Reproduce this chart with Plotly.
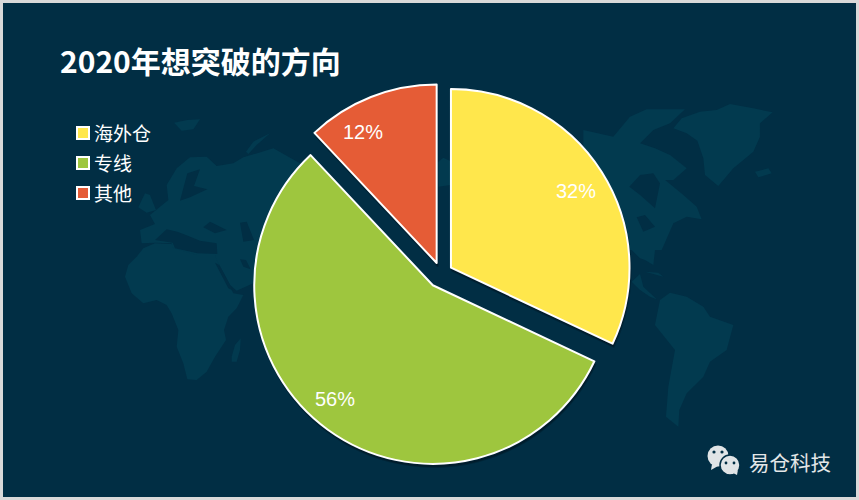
import math
import plotly.graph_objects as go

W, H = 859, 500

categories = ['海外仓', '专线', '其他']
values = [32, 56, 12]
colors = ['#FFE74C', '#9EC63E', '#E55C36']
pulls = [0.066, 0.078, 0.066]
# the labels are not quite on the slice bisector in the original
label_nudge = [(0, 2), (-11, -6), (-19, 6)]

BG = '#012E44'
LAND = '#023A4F'
SANS = 'Noto Sans CJK SC'

# faint world map behind the pie. outlines traced off 3x crops of the picture,
# so each group has its crop origin
old_world_land = [
    # africa
    [(75, 530), (85, 495), (110, 470), (130, 445), (165, 430), (215, 432), (240, 445), (290, 462), (345, 462),
     (365, 510), (385, 550), (400, 580), (430, 585), (410, 625), (385, 650), (372, 690), (378, 720), (345, 770),
     (320, 815), (290, 840), (262, 838), (250, 790), (230, 740), (235, 690), (215, 640), (200, 615), (170, 600),
     (130, 610), (95, 580)],
    # madagascar
    [(395, 770), (405, 735), (422, 715), (420, 750), (410, 785), (395, 785)],
    # europe and asia, runs on behind the green slice
    [(125, 430), (120, 390), (165, 372), (150, 345), (205, 300), (200, 255), (230, 205), (270, 172), (320, 170),
     (350, 198), (400, 190), (430, 172), (520, 145), (600, 190), (700, 250), (640, 430), (600, 500), (470, 545),
     (410, 572), (390, 555), (350, 480), (345, 465), (290, 465), (220, 445), (215, 430), (165, 428)],
    # britain, ireland
    [(115, 322), (135, 280), (150, 285), (168, 330), (140, 338)],
    # svalbard, novaya zemlya
    [(222, 68), (262, 60), (300, 58), (280, 88), (245, 92)],
    [(438, 155), (460, 125), (510, 100), (470, 135), (445, 162)],
]
old_world_sea = [
    # mediterranean
    [(165, 420), (200, 388), (232, 395), (258, 405), (300, 422), (350, 430), (352, 462), (292, 460), (225, 445),
     (218, 428)],
    # black sea
    [(310, 382), (330, 365), (380, 390), (345, 400)],
    # caspian
    [(420, 368), (440, 365), (462, 420), (430, 425)],
    # baltic
    [(240, 302), (262, 220), (300, 208), (282, 258), (322, 268), (270, 292)],
    # red sea and gulf
    [(345, 488), (358, 495), (400, 572), (385, 565)],
    [(420, 478), (438, 480), (452, 508), (430, 500)],
]
north_atlantic_land = [
    # greenland
    [(250, 145), (275, 115), (330, 95), (380, 90), (420, 72), (490, 85), (548, 97), (510, 130), (510, 170),
     (490, 215), (430, 265), (385, 318), (345, 285), (340, 235), (322, 182), (290, 160)],
    # iceland
    [(495, 275), (535, 265), (545, 280), (505, 292)],
    # arctic canada and the mainland, runs on behind the yellow slice
    [(-20, 150), (70, 170), (120, 110), (170, 88), (285, 88), (240, 130), (190, 150), (150, 190), (195, 205),
     (240, 225), (290, 265), (250, 300), (225, 300), (280, 345), (320, 380), (335, 418), (290, 410), (250, 430),
     (215, 510), (100, 510), (-20, 280)],
]
north_atlantic_sea = [
    # hudson bay
    [(118, 320), (150, 285), (190, 280), (210, 310), (195, 385), (150, 345)],
    # great lakes
    [(140, 412), (165, 405), (195, 440), (160, 455)],
]
south_america_land = [
    # tip of north america, central america, cuba
    [(125, 0), (195, 0), (190, 45), (165, 30), (150, 25)],
    [(125, 95), (150, 72), (160, 110), (200, 148), (180, 140), (150, 120)],
    [(165, 65), (205, 68), (220, 80), (190, 72)],
    # south america
    [(210, 150), (240, 128), (290, 140), (340, 170), (360, 200), (430, 225), (410, 300), (360, 335), (340, 380),
     (290, 430), (268, 480), (265, 530), (228, 500), (235, 410), (255, 300), (195, 225)],
]
# little patch of asia showing between the orange and yellow slices
gap_land = [[(170, 280), (190, 263), (215, 275), (212, 345), (175, 350)]]


def crop_points(points, left, top):
    return [(left + x / 3, top + y / 3) for x, y in points]


def px_path(points):
    xs = [x / W for x, y in points]
    ys = [1 - y / H for x, y in points]
    return 'M' + ' L'.join(f'{x:.4f},{y:.4f}' for x, y in zip(xs, ys)) + ' Z'


shapes = []


def add_poly(points, color, layer='below'):
    shapes.append(dict(type='path', path=px_path(points), xref='paper', yref='paper', layer=layer,
                       fillcolor=color, line=dict(width=0)))


for outlines, left, top, color in [(old_world_land, 100, 100, LAND), (north_atlantic_land, 590, 80, LAND),
                                   (south_america_land, 590, 250, LAND), (gap_land, 380, 70, LAND),
                                   (old_world_sea, 100, 100, BG), (north_atlantic_sea, 590, 80, BG)]:
    for pts in outlines:
        add_poly(crop_points(pts, left, top), color)


def px_circle(cx, cy, r, color, line=None):
    shapes.append(dict(type='circle', xref='paper', yref='paper', layer='above',
                       x0=(cx - r) / W, x1=(cx + r) / W, y0=1 - (cy + r) / H, y1=1 - (cy - r) / H,
                       fillcolor=color, line=dict(width=1.5 if line else 0, color=line or color)))


# wechat mark
ICON = '#E0E4E6'
px_circle(718, 456, 10.5, ICON)
add_poly([(712, 464), (718, 466), (711, 470)], ICON, 'above')
px_circle(730, 465, 10, ICON, BG)
add_poly([(733, 473), (738, 470), (737, 475)], ICON, 'above')
px_circle(714, 452, 1.6, BG)
px_circle(722, 452, 1.6, BG)
px_circle(726, 463, 1.4, BG)
px_circle(734, 463, 1.4, BG)

# page frame
shapes.append(dict(type='rect', xref='paper', yref='paper', layer='above', x0=1.5 / W, x1=(W - 1.5) / W,
                   y0=1.5 / H, y1=(H - 1.5) / H, line=dict(color='#D9D9D9', width=3), fillcolor='rgba(0,0,0,0)'))

# pie sits around (441, 274), 180px radius plus the pull
cx, cy, half = 441, 274, 192.5
dom_x = [(cx - half) / W, (cx + half) / W]
dom_y = [1 - (cy + half) / H, 1 - (cy - half) / H]

fig = go.Figure()
# soft shadow under the slices
fig.add_trace(go.Pie(labels=categories, values=values, sort=False, direction='clockwise', rotation=0, pull=pulls,
                     domain=dict(x=[d + 1 / W for d in dom_x], y=[d - 3 / H for d in dom_y]),
                     marker=dict(colors=['rgba(0,20,32,0.55)'] * 3, line=dict(width=2, color='rgba(0,20,32,0.35)')),
                     textinfo='none', hoverinfo='skip', showlegend=False))
fig.add_trace(go.Pie(labels=categories, values=values, sort=False, direction='clockwise', rotation=0, pull=pulls,
                     domain=dict(x=dom_x, y=dom_y),
                     marker=dict(colors=colors, line=dict(color='white', width=2)),
                     textinfo='none', showlegend=False))

# percent labels sit out near the rim, so place them from the values
annotations = []
total = sum(values)
start = 0
for val, pull, (nx, ny) in zip(values, pulls, label_nudge):
    mid = (start + val / 2) / total * 2 * math.pi
    start += val
    rad = 180 * (pull + 0.82)
    annotations.append(dict(x=(cx + rad * math.sin(mid) + nx) / W, y=1 - (cy - rad * math.cos(mid) + ny) / H,
                            xref='paper', yref='paper', xanchor='center', yanchor='middle', showarrow=False,
                            text=f'{val}%', font=dict(family='Liberation Sans', size=20, color='white')))

# legend by hand, plotly's swatch gap is wider than the one wanted here
for i, (name, color) in enumerate(zip(categories, colors)):
    ly = 133 + i * 30
    shapes.append(dict(type='rect', xref='paper', yref='paper', layer='above', x0=77 / W, x1=89 / W,
                       y0=1 - (ly + 6) / H, y1=1 - (ly - 6) / H, fillcolor=color, line=dict(color='white', width=2)))
    annotations.append(dict(x=92 / W, y=1 - (ly - 1) / H, xref='paper', yref='paper', xanchor='left', yanchor='middle',
                            showarrow=False, text=name, font=dict(family=SANS, size=19, color='white')))

annotations.append(dict(x=747 / W, y=1 - 462 / H, xref='paper', yref='paper', xanchor='left', yanchor='middle',
                        showarrow=False, text='易仓科技', font=dict(family=SANS, size=20.5, color='#E4E7E8')))

fig.update_layout(
    width=W, height=H, margin=dict(l=0, r=0, t=0, b=0),
    paper_bgcolor=BG,
    title=dict(text='<b>2020年想突破的方向</b>', x=60 / W, xanchor='left', y=1 - 62 / H, yanchor='middle',
               font=dict(family=SANS, size=30, color='white')),
    shapes=shapes,
    annotations=annotations,
)

fig.write_html('out.html', config=dict(displayModeBar=False), post_script="document.body.style.margin='0';")
